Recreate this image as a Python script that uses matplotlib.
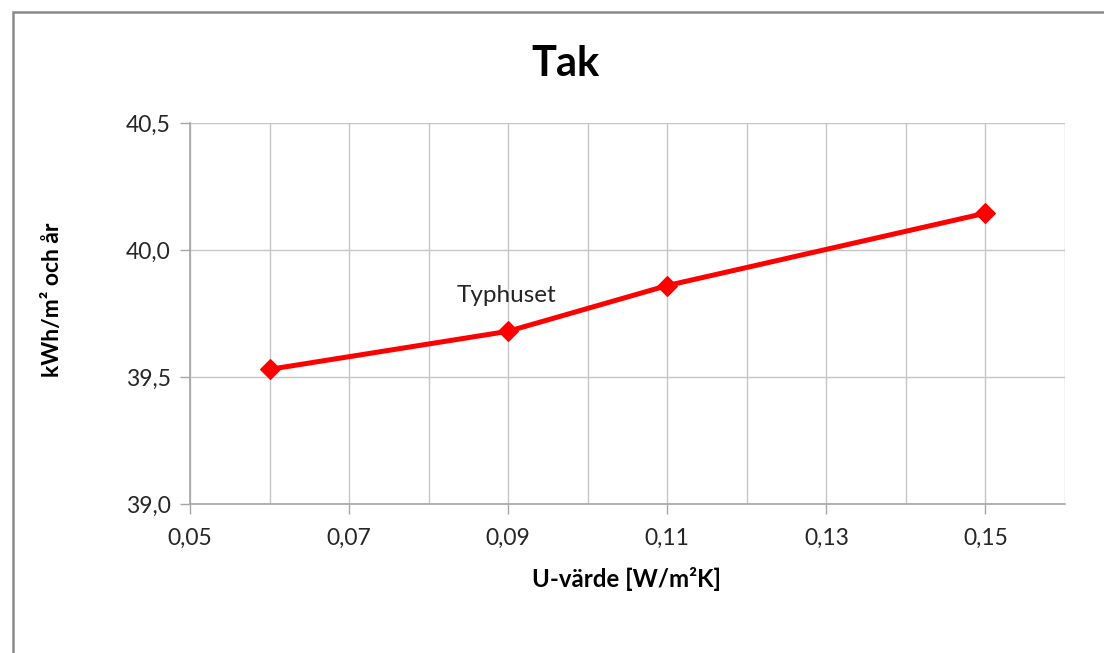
import matplotlib
matplotlib.use("Agg")
import matplotlib.pyplot as plt
from matplotlib.patches import Rectangle
from matplotlib.ticker import FixedLocator, FuncFormatter

# U-value of the roof vs. annual energy use
u_values = [0.06, 0.09, 0.11, 0.15]
energy = [39.53, 39.68, 39.86, 40.145]
annotation_text = "Typhuset"
annotation_index = 1

x_major = [0.05, 0.07, 0.09, 0.11, 0.13, 0.15]
x_minor = [0.06, 0.08, 0.10, 0.12, 0.14, 0.16]
y_major = [39.0, 39.5, 40.0, 40.5]

title = "Tak"
xlabel = "U-värde [W/m²K]"
ylabel = "kWh/m² och år"

plt.rcParams["font.family"] = ["Lato", "DejaVu Sans"]

W, H = 1104, 653
fig = plt.figure(figsize=(W / 100, H / 100), dpi=100)
fig.patch.set_facecolor("white")

# outer chart frame (left and top edges visible)
fig.patches.append(Rectangle((12.5 / W, -0.1), 1.2, 1.1 - 12.5 / H,
                             transform=fig.transFigure, fill=False,
                             edgecolor="#8a8a8a", linewidth=1.8))

left, right, top, bottom = 190, 1065, 123, 504
ax = fig.add_axes([left / W, 1 - bottom / H, (right - left) / W, (bottom - top) / H])

ax.set_xlim(0.05, 0.16)
ax.set_ylim(39.0, 40.5)
ax.xaxis.set_major_locator(FixedLocator(x_major))
ax.xaxis.set_minor_locator(FixedLocator(x_minor))
ax.yaxis.set_major_locator(FixedLocator(y_major))

comma = lambda fmt: FuncFormatter(lambda v, p: (fmt % v).replace(".", ","))
ax.xaxis.set_major_formatter(comma("%.2f"))
ax.yaxis.set_major_formatter(comma("%.1f"))

ax.grid(True, which="both", axis="x", color="#c6c6c6", linewidth=1.0)
ax.grid(True, which="major", axis="y", color="#c6c6c6", linewidth=1.0)
ax.set_axisbelow(True)

for s in ["top", "right"]:
    ax.spines[s].set_visible(False)
for s in ["left", "bottom"]:
    ax.spines[s].set_color("#a6a6a6")
    ax.spines[s].set_linewidth(1.2)

ax.tick_params(axis="both", which="major", direction="out", length=7,
               color="#a6a6a6", width=1.0, labelsize=16.5, labelcolor="#262626")
ax.tick_params(axis="x", which="minor", length=0)
ax.tick_params(axis="x", pad=10)
ax.tick_params(axis="y", pad=7)

ax.plot(u_values, energy, color="#ff0000", linewidth=3.6, marker="D",
        markersize=10, markeredgewidth=0.8, markeredgecolor="#ff0000",
        markerfacecolor="#ff0000", solid_capstyle="round", zorder=3)

ax.annotate(annotation_text, (u_values[annotation_index], energy[annotation_index]),
            xytext=(-1, 26), textcoords="offset points", ha="center", va="center",
            fontsize=17.5, color="#262626")

fig.text(565 / W, 1 - 64 / H, title, ha="center", va="center",
         fontsize=30, fontweight="bold", color="black")
fig.text(627 / W, 1 - 579 / H, xlabel, ha="center", va="center",
         fontsize=17.3, fontweight="bold", color="black")
fig.text(53 / W, 1 - 300 / H, ylabel, ha="center", va="center", rotation=90,
         fontsize=16.5, fontweight="bold", color="black")

fig.savefig("out.png", dpi=100, facecolor="white")
